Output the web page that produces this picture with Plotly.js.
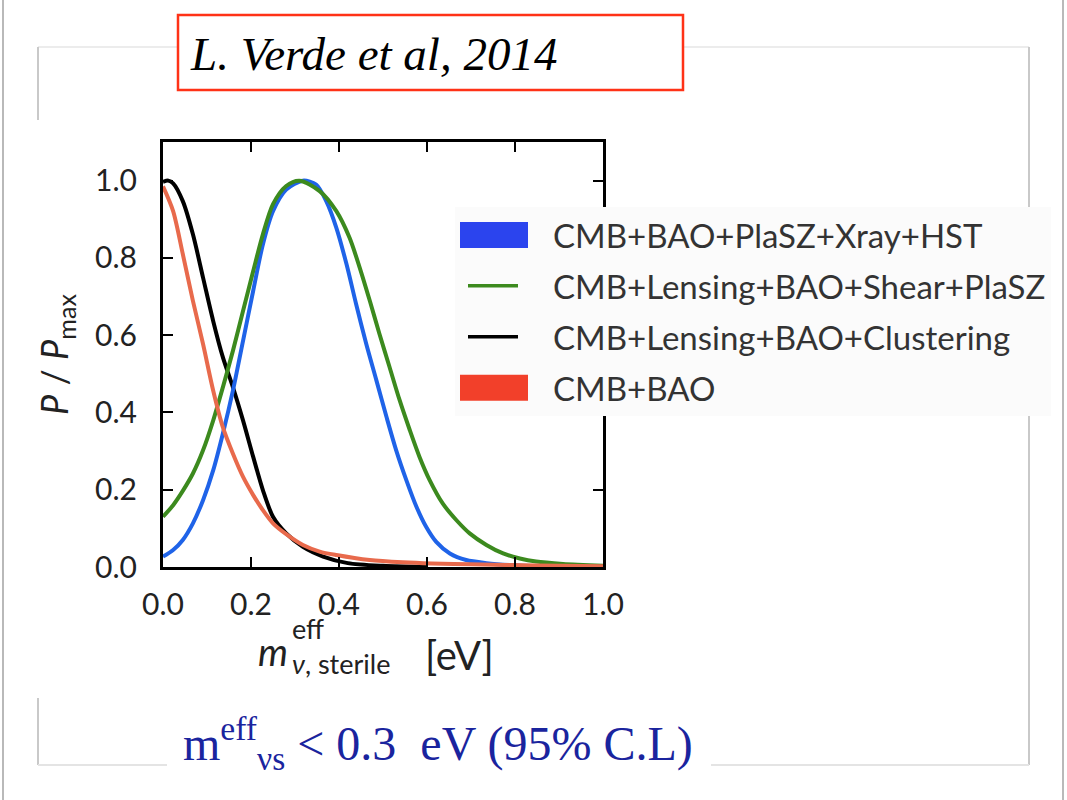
<!DOCTYPE html>
<html>
<head>
<meta charset="utf-8">
<script src="https://cdn.plot.ly/plotly-3.0.1.min.js"></script>
<style>
  html, body { margin: 0; padding: 0; background: #ffffff; }
  #chart { width: 1067px; height: 800px; }
</style>
</head>
<body>
<div id="chart"></div>
<script>
// Marginalised posteriors of the effective sterile-neutrino mass, normalised to P_max.
const seriesNames = [
  'CMB+BAO+PlaSZ+Xray+HST',
  'CMB+Lensing+BAO+Shear+PlaSZ',
  'CMB+Lensing+BAO+Clustering',
  'CMB+BAO'
];

const blueX = [0, 0.023, 0.045, 0.068, 0.091, 0.114, 0.136, 0.159, 0.182, 0.205, 0.227, 0.25, 0.28, 0.318, 0.348, 0.371, 0.394, 0.417, 0.439, 0.462, 0.485, 0.508, 0.53, 0.553, 0.576, 0.598, 0.621, 0.652, 0.689, 0.735, 0.788, 0.85, 1.0];
const blueY = [0.027, 0.044, 0.07, 0.113, 0.173, 0.25, 0.345, 0.457, 0.586, 0.715, 0.835, 0.921, 0.977, 1.0, 0.99, 0.947, 0.878, 0.784, 0.68, 0.577, 0.483, 0.388, 0.302, 0.225, 0.156, 0.104, 0.065, 0.035, 0.018, 0.01, 0.005, 0.002, 0.0];

const greenX = [0, 0.023, 0.045, 0.068, 0.091, 0.114, 0.136, 0.159, 0.182, 0.205, 0.227, 0.25, 0.28, 0.31, 0.356, 0.394, 0.424, 0.447, 0.47, 0.492, 0.515, 0.538, 0.561, 0.583, 0.606, 0.636, 0.667, 0.697, 0.735, 0.773, 0.811, 0.848, 0.909, 1.0];
const greenY = [0.13, 0.16, 0.197, 0.242, 0.302, 0.379, 0.465, 0.56, 0.663, 0.766, 0.861, 0.939, 0.986, 1.0, 0.973, 0.921, 0.852, 0.775, 0.689, 0.603, 0.517, 0.431, 0.354, 0.285, 0.225, 0.164, 0.121, 0.087, 0.057, 0.035, 0.022, 0.014, 0.008, 0.003];

const blackX = [0, 0.012, 0.023, 0.045, 0.068, 0.091, 0.114, 0.136, 0.159, 0.182, 0.205, 0.227, 0.25, 0.28, 0.318, 0.364, 0.42, 0.5, 0.6];
const blackY = [0.997, 1.0, 0.993, 0.947, 0.861, 0.749, 0.637, 0.543, 0.465, 0.379, 0.285, 0.199, 0.13, 0.087, 0.052, 0.027, 0.01, 0.003, 0.0];

const redX = [0, 0.023, 0.045, 0.068, 0.091, 0.114, 0.136, 0.159, 0.182, 0.205, 0.227, 0.25, 0.28, 0.318, 0.356, 0.394, 0.47, 0.545, 0.61, 0.7, 0.85, 1.0];
const redY = [0.985, 0.921, 0.81, 0.689, 0.577, 0.457, 0.362, 0.293, 0.233, 0.186, 0.147, 0.113, 0.085, 0.057, 0.04, 0.031, 0.018, 0.012, 0.009, 0.007, 0.004, 0.002];

const xTickVals = [0, 0.2, 0.4, 0.6, 0.8, 1.0];
const xTickText = ['0.0', '0.2', '0.4', '0.6', '0.8', '1.0'];
const yTickVals = [0, 0.2, 0.4, 0.6, 0.8, 1.0];
const yTickText = ['0.0', '0.2', '0.4', '0.6', '0.8', '1.0'];

// ---- page geometry (pixels) ----
const W = 1067, H = 800;
const plotL = 163, plotR = 603, plotT = 142, plotB = 567;
const px = v => (v - plotL) / (plotR - plotL);
const py = v => (plotB - v) / (plotB - plotT);

const curveColors = ['#1f63e8', '#3c8a1e', '#000000', '#e86a4c'];
const legendSwatch = {
  'CMB+BAO+PlaSZ+Xray+HST': { color: '#2b44ee', patch: true },
  'CMB+Lensing+BAO+Shear+PlaSZ': { color: '#3c8a1e', patch: false },
  'CMB+Lensing+BAO+Clustering': { color: '#000000', patch: false },
  'CMB+BAO': { color: '#f2402a', patch: true }
};

function curve(x, y, idx) {
  return {
    type: 'scatter', mode: 'lines', x: x, y: y,
    name: seriesNames[idx],
    legendgroup: 'g' + idx, legendrank: idx + 1,
    line: { color: curveColors[idx], width: 4, shape: 'spline', smoothing: 0.8 },
    hoverinfo: 'skip'
  };
}

// drawing order: black underneath, then blue, green, red on top
const data = [
  curve(blackX, blackY, 2),
  curve(blueX, blueY, 0),
  curve(greenX, greenY, 1),
  curve(redX, redY, 3)
];

function seg(x0, y0, x1, y1, color, width) {
  return { type: 'line', xref: 'paper', yref: 'paper',
    x0: px(x0), y0: py(y0), x1: px(x1), y1: py(y1),
    line: { color: color, width: width } };
}

const frameGrey = '#c9c9c9', panelTop = '#ececec', panelBottom = '#e4e4e4';
const shapes = [
  seg(3, 0, 3, H, '#b9b9b9', 2),
  seg(1063, 0, 1063, H, '#b9b9b9', 2),
  seg(38, 47, 1029, 47, panelTop, 2),
  seg(38, 47, 38, 120, frameGrey, 2),
  seg(38, 698, 38, 765, frameGrey, 2),
  seg(1029, 47, 1029, 207, frameGrey, 2),
  seg(1029, 312, 1029, 765, frameGrey, 2),
  seg(38, 765, 167, 765, panelBottom, 2),
  seg(711, 765, 1029, 765, panelBottom, 2),
  { type: 'rect', xref: 'paper', yref: 'paper',
    x0: px(178), x1: px(683), y0: py(15), y1: py(90),
    line: { color: '#ff3217', width: 2.5 }, fillcolor: '#ffffff' }
];

const labelFont = 'Lato, "DejaVu Sans", sans-serif';
const serif = '"Liberation Serif", "Times New Roman", serif';

const annotations = [
  { text: '<i>L. Verde et al, 2014</i>', xref: 'paper', yref: 'paper',
    x: px(188), y: py(54), xanchor: 'left', yanchor: 'middle', showarrow: false,
    font: { family: serif, size: 47, color: '#000000' } },
  { text: 'm<sup>eff</sup><sub>νs</sub> &lt; 0.3  eV (95% C.L)', xref: 'paper', yref: 'paper',
    x: px(438), y: py(743), xanchor: 'center', yanchor: 'middle', showarrow: false,
    font: { family: serif, size: 48, color: '#1a249e' } },
  // x-axis label: m, a stacked superscript/subscript block, then the unit
  { text: '<i>m</i>', xref: 'paper', yref: 'paper',
    x: px(290), y: py(651), xanchor: 'right', yanchor: 'middle', showarrow: false,
    font: { family: labelFont, size: 38, color: '#222222' } },
  { text: 'eff<br><i>ν</i>, sterile', xref: 'paper', yref: 'paper',
    x: px(291), y: py(646), xanchor: 'left', yanchor: 'middle', align: 'left',
    showarrow: false, borderpad: 0,
    font: { family: labelFont, size: 27, color: '#222222' } },
  { text: '[eV]', xref: 'paper', yref: 'paper',
    x: px(423), y: py(655), xanchor: 'left', yanchor: 'middle', showarrow: false,
    font: { family: labelFont, size: 40, color: '#222222' } }
];

const axisCommon = {
  showline: true, linecolor: '#000000', linewidth: 3, mirror: 'allticks',
  ticks: 'inside', ticklen: 10, tickwidth: 2, tickcolor: '#000000',
  showgrid: false, zeroline: false, fixedrange: true,
  tickfont: { family: labelFont, size: 30, color: '#222222' }
};

const layout = {
  width: W, height: H, autosize: false,
  margin: { l: plotL, r: W - plotR, t: plotT, b: H - plotB, pad: 0 },
  paper_bgcolor: '#ffffff', plot_bgcolor: '#ffffff',
  showlegend: true,
  xaxis: Object.assign({}, axisCommon, {
    range: [0, 1.0], tickvals: xTickVals, ticktext: xTickText,
    ticklabelstandoff: 9
  }),
  yaxis: Object.assign({}, axisCommon, {
    range: [0, 1.1], tickvals: yTickVals, ticktext: yTickText,
    ticklabelstandoff: 17,
    title: { text: '<i>P</i> / <i>P</i><sub>max</sub>', standoff: 16,
      font: { family: labelFont, size: 36, color: '#222222' } }
  }),
  legend: {
    x: px(455), y: py(207), xanchor: 'left', yanchor: 'top',
    bgcolor: '#fbfbfb', borderwidth: 0,
    font: { family: labelFont, size: 33, color: '#333333' },
    itemwidth: 88, tracegroupgap: 5, traceorder: 'grouped',
    itemclick: false, itemdoubleclick: false
  },
  shapes: shapes,
  annotations: annotations
};

const gd = document.getElementById('chart');
Plotly.newPlot(gd, data, layout, { displayModeBar: false, staticPlot: true }).then(function () {
  // legend keys: wide colour patches for the filled-contour datasets, short lines for the others
  gd.querySelectorAll('.legend .traces').forEach(function (g) {
    const d = g.__data__;
    if (!d || !d[0] || !d[0].trace) return;
    const sw = legendSwatch[d[0].trace.name];
    const path = g.querySelector('.legendlines path');
    if (!sw || !path) return;
    if (sw.patch) {
      path.setAttribute('d', 'M5,0h68');
      path.style.strokeWidth = '26px';
    } else {
      path.setAttribute('d', 'M13,0h50');
      path.style.strokeWidth = '3.5px';
    }
    path.style.stroke = sw.color;
    path.style.strokeLinecap = 'butt';
  });
});
</script>
</body>
</html>
